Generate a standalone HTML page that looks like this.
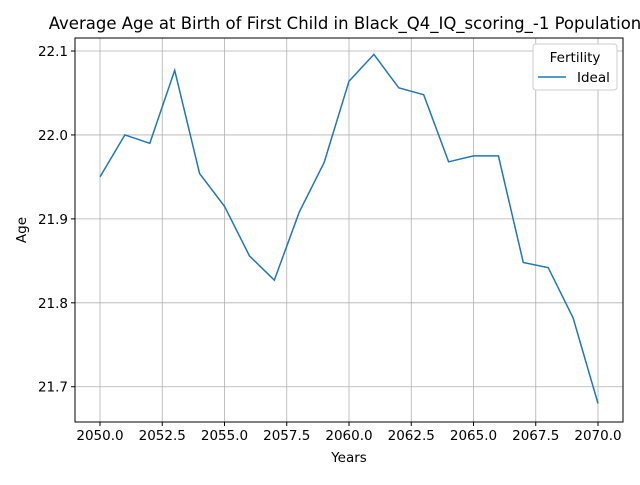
<!DOCTYPE html>
<html><head><meta charset="utf-8"><style>
body{margin:0;background:#fff}
svg{font-family:"DejaVu Sans","Liberation Sans",sans-serif}
</style></head><body>
<svg id="chart" width="640" height="480" xmlns="http://www.w3.org/2000/svg">
<rect width="640" height="480" fill="#fff"/>
<text x="345" y="29" font-size="16.5" text-anchor="middle">Average Age at Birth of First Child in Black_Q4_IQ_scoring_-1 Population</text>
<g id="grid"></g>
<g id="ticks"></g>
<rect x="75" y="38" width="548" height="384" fill="none" stroke="#000" stroke-width="1"/>
<text x="349" y="462" font-size="13.5" text-anchor="middle">Years</text>
<text transform="translate(26,230) rotate(-90)" font-size="13.5" text-anchor="middle">Age</text>
<g>
<rect x="533" y="44" width="84" height="46" rx="3" fill="#fff" stroke="#ccc"/>
<text x="575" y="62" font-size="13.5" text-anchor="middle">Fertility</text>
<line x1="538" y1="77" x2="566" y2="77" stroke="#1f77b4" stroke-width="1.5"/>
<text x="577" y="82" font-size="13.5">Ideal</text>
</g>
</svg>
<script>
const years=[2050,2051,2052,2053,2054,2055,2056,2057,2058,2059,2060,2061,2062,2063,2064,2065,2066,2067,2068,2069,2070];
const ages=[21.95,22.0,21.99,22.077,21.954,21.915,21.856,21.827,21.908,21.967,22.064,22.096,22.056,22.048,21.968,21.975,21.975,21.848,21.842,21.782,21.68];
const xTicks=[2050,2052.5,2055,2057.5,2060,2062.5,2065,2067.5,2070];
const yTicks=[21.7,21.8,21.9,22.0,22.1];
const NS="http://www.w3.org/2000/svg";
const L=75,R=623,T=38,B=422;
const xMin=2048.996,xMax=2071.004,yMin=21.658,yMax=22.1155;
const X=v=>L+(v-xMin)/(xMax-xMin)*(R-L);
const Y=v=>B-(v-yMin)/(yMax-yMin)*(B-T);
const svg=document.getElementById('chart'),grid=document.getElementById('grid'),tk=document.getElementById('ticks');
function mk(t,a,p){const e=document.createElementNS(NS,t);for(const k in a)e.setAttribute(k,a[k]);p.appendChild(e);return e;}
xTicks.forEach(v=>{const x=X(v);
const g=mk('line',{x1:x,x2:x,y1:T,y2:B,stroke:'#b0b0b0','stroke-width':0.8},grid);


mk('line',{x1:x,x2:x,y1:B,y2:B+4,stroke:'#000'},tk);
const t=mk('text',{x:x,y:B+18,'font-size':13.5,'text-anchor':'middle'},tk);t.textContent=v.toFixed(1);

});
yTicks.forEach(v=>{const y=Y(v);
const g=mk('line',{x1:L,x2:R,y1:y,y2:y,stroke:'#b0b0b0','stroke-width':0.8},grid);


mk('line',{x1:L-4,x2:L,y1:y,y2:y,stroke:'#000'},tk);
const t=mk('text',{x:L-7,y:y+5,'font-size':13.5,'text-anchor':'end'},tk);t.textContent=v.toFixed(1);

});
const pts=years.map((y,i)=>X(y).toFixed(1)+','+Y(ages[i]).toFixed(1)).join(' ');
const line=mk('polyline',{points:pts,fill:'none',stroke:'#1f77b4','stroke-width':1.5},svg);


</script>
</body></html>
